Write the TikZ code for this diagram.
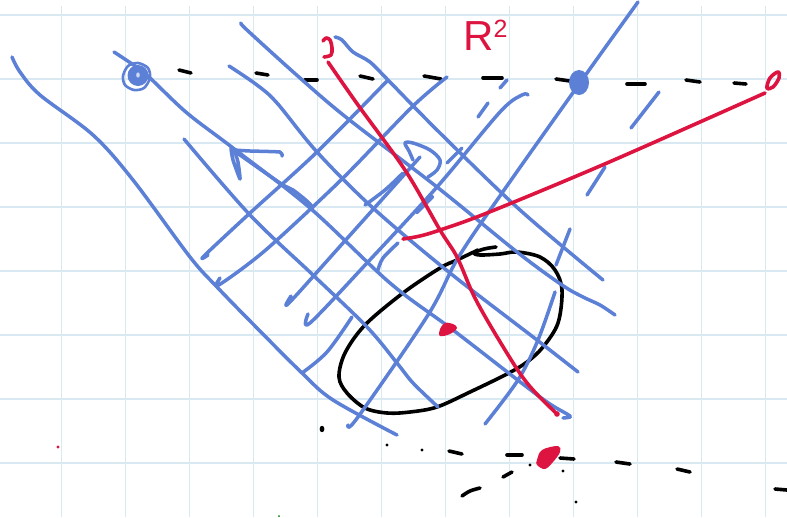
\documentclass[tikz,border=0pt]{standalone}
\usepackage{fontspec}
\setmainfont{Liberation Sans}
\definecolor{inkblue}{HTML}{5B80D6}
\definecolor{inkred}{HTML}{DD1440}
\definecolor{gridc}{HTML}{D9E9F2}
\tikzset{
  gridline/.style={draw=gridc,line width=1.6pt},
  ink/.style={line cap=round,line join=round},
  blueink/.style={ink,draw=inkblue,line width=3.5pt},
  blackink/.style={ink,draw=black,line width=3.6pt},
  redink/.style={ink,draw=inkred,line width=3.6pt},
  curve/.style={smooth,tension=0.55}
}
\begin{document}
\begin{tikzpicture}[x=1pt,y=-1pt]
\useasboundingbox (0,0) rectangle (787,517);
\fill[white] (0,0) rectangle (787,517);
% grid
\foreach \gx in {61.5,125.5,189.5,253.5,317.5,381.5,445.5,509.5,573.5,637.5,701.5,765.5}
  \draw[gridline] (\gx,6) -- (\gx,517);
\foreach \gy in {15,79,143,207,271,335,399,463}
  \draw[gridline] (0,\gy) -- (787,\gy);
% black curve
\draw[blackink] plot[curve] coordinates {(496,247) (484,249) (474,253) (480,255) (500,254) (517,252) (540,257) (555,270) (562,290) (558,323) (543,347) (527,362) (507,374) (470,392) (437,407) (410,412) (387,413) (365,408) (347,393) (339,377) (345,353) (365,325) (403,293) (440,268) (457,260) (478,250)};
% black dashes
\foreach \ax/\ay/\bx/\by in {179/70/191/73,256/73/268/75,305/80/317/80,360/76/373/79,424/76/441/79,483/78/502/78,556/79/570/81,627/84/645/84,686/80/700/82,734/83/746/84,449/451/462/454,507/455/522/455,560/458/574/459,616/462/630/464,677/469/690/472,775/489/787/490,503/477/512/472}
  \draw[blackink] (\ax,\ay) -- (\bx,\by);
\draw[blackink] plot[curve] coordinates {(462,496) (470,491) (480,488)};
\foreach \dx/\dy in {422/450,530/465,563/471,576/502,387/445}
  \fill (\dx,\dy) circle (1.6);
\fill (322,429) ellipse (2.4 and 3.2);
% blue family running down-right
\draw[blueink] plot[curve] coordinates {(12,57) (20,72) (40,95) (93,135) (133,180) (190,257) (217,287) (253,324) (302,373) (333,400) (397,435)};
\draw[blueink] plot[curve] coordinates {(114,52) (135,66) (150,78) (187,113) (233,148) (310,208) (390,283) (453,330) (540,397) (567,414) (570,417) (563,418)};
\draw[blueink] plot[curve] coordinates {(233,150) (280,183) (293,190) (308,202) (313,208)};
\draw[blueink] plot[curve] coordinates {(184,139) (250,215) (313,275) (367,327) (397,363) (413,383) (438,407)};
\draw[blueink] plot[curve] coordinates {(229,66) (257,85) (277,103) (317,152) (373,208) (450,273) (537,340) (578,372)};
\draw[blueink] plot[curve] coordinates {(241,23) (247,30) (300,78) (347,118) (437,187) (517,252) (562,285) (583,297) (600,305) (615,315)};
\draw[blueink] plot[curve] coordinates {(335,37) (342,40) (353,52) (370,62) (388,80) (440,133) (520,210) (603,280)};
% blue family running up-right
\draw[blueink] plot[curve] coordinates {(208,255) (204,256) (250,213) (317,152) (388,80)};
\draw[blueink] plot[curve] coordinates {(220,278) (217,286) (247,265) (277,240) (343,178) (412,107) (447,77)};
\draw[blueink] plot[curve] coordinates {(291,296) (289,303) (343,243) (420,157)};
\draw[blueink] plot[curve] coordinates {(365,205) (385,190) (403,173)};
\draw[blueink] plot[curve] coordinates {(308,314) (310,323) (367,263) (437,187) (500,112) (522,95) (528,95)};
\draw[blueink] plot[curve] coordinates {(302,373) (327,352) (352,317)};
\draw[blueink] plot[curve] coordinates {(348,425) (358,417) (428,315) (458,258) (502,193) (587,73) (638,2)};
\draw[blueink] plot[curve] coordinates {(378,270) (383,258) (398,243)};
\draw[blueink] plot[curve] coordinates {(485,424) (518,380) (538,340) (555,292)};
\draw[blueink] (556,265) -- (570,229);
\draw[blueink] (587,195) -- (605,167);
\draw[blueink] (631,128) -- (659,92);
\draw[blueink] (447,163) -- (462,148);
\draw[blueink] (478,117) -- (488,103);
\draw[blueink] (500,88) -- (507,80);
\draw[blueink,line width=4.2pt] (417,212) -- (432,197);
% blue arrow head
\draw[blueink] plot[curve,tension=0.3] coordinates {(282,156) (280,152) (250,151) (235,150) (231,148) (233,160) (240,179) (238,162) (234,149)};
% blue swirl
\draw[blueink] plot[curve] coordinates {(413,160) (409,151) (405,143) (413,143) (430,150) (440,160) (437,170) (428,177)};
% blue dots
\draw[blueink,line width=2.6pt] plot[smooth cycle] coordinates {(123,76) (128,66) (138,63) (148,68) (150,78) (144,88) (134,90) (125,85)};
\fill[inkblue] (138,75.5) circle (10.5);
\fill[white!70!inkblue] (138,75) ellipse (1.8 and 2.6);
\fill[inkblue] (579,82.5) ellipse (10 and 12.5);
% red strokes
\draw[redink] plot[curve] coordinates {(328,62) (358,105) (405,170) (440,230) (457,257) (473,294) (490,325) (517,369) (533,390) (557,414)};
\fill[inkred] (557,414) circle (2.8);
\draw[redink] plot[curve] coordinates {(403,239) (420,236) (440,230) (487,213) (607,163) (765,93)};
\draw[redink] plot[curve] coordinates {(323,41) (326,38) (330,40) (332,48) (331,55) (324,57)};
\draw[redink] plot[smooth cycle,tension=0.6] coordinates {(767,88) (770,78) (778,72) (779,78) (773,87)};
% red blobs
\fill[inkred] plot[smooth cycle,tension=0.6] coordinates {(440,336) (440,329) (445,323) (453,324) (457,328) (450,334)};
\fill[inkred] plot[smooth cycle,tension=0.6] coordinates {(537,460) (542,450) (558,446) (560,452) (553,462) (545,469) (537,465)};
\fill[inkred] (58,447) circle (1.6);
\fill[black!50!green] (279,516) circle (1);
% label
\node[text=inkred,font=\fontsize{42}{42}\selectfont,inner sep=0pt,anchor=base west] (rtwo) at (463,50) {R\raisebox{13pt}{\fontsize{25}{25}\selectfont 2}};
\end{tikzpicture}
\end{document}
